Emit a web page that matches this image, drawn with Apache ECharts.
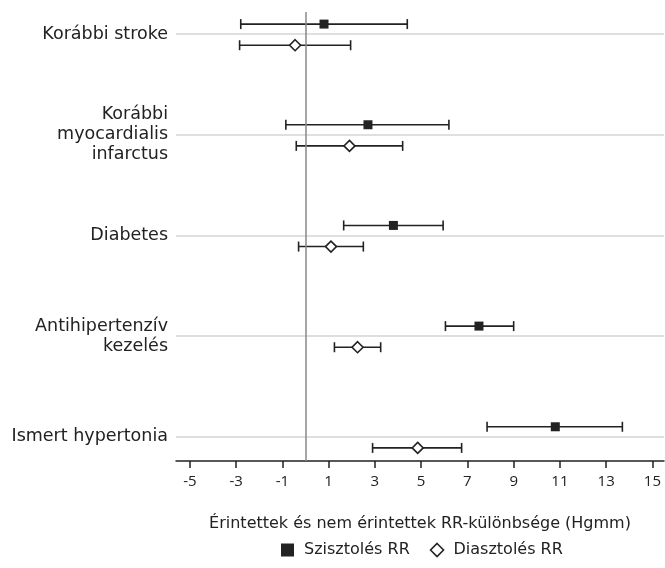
<!DOCTYPE html>
<html>
<head>
<meta charset="utf-8">
<script src="https://cdn.jsdelivr.net/npm/echarts@6/dist/echarts.min.js"></script>
<style>
  html, body { margin: 0; padding: 0; background: #fff; }
  #main { width: 665px; height: 568px; }
</style>
</head>
<body>
<div id="main"></div>
<script>
var categories = ['Korábbi stroke', 'Korábbi\nmyocardialis\ninfarctus', 'Diabetes', 'Antihipertenzív\nkezelés', 'Ismert hypertonia'];
var xTicks = [-5, -3, -1, 1, 3, 5, 7, 9, 11, 13, 15];

// [lower, estimate, upper]
var sysLow = [-2.8, -0.85, 1.65, 6.05, 7.85];
var sysMid = [0.8, 2.7, 3.8, 7.5, 10.8];
var sysHigh = [4.4, 6.2, 5.95, 9.0, 13.7];

var diaLow = [-2.85, -0.4, -0.3, 1.25, 2.9];
var diaMid = [-0.45, 1.9, 1.1, 2.25, 4.85];
var diaHigh = [1.95, 4.2, 2.5, 3.25, 6.75];

function rows(low, mid, high) {
  return categories.map(function (c, i) { return [i, low[i], mid[i], high[i]]; });
}

var myChart = echarts.init(document.getElementById('main'));

function makeRender(offset, shape) {
  return function (params, api) {
    var y = api.value(0) + offset;
    var a = api.coord([api.value(1), y]);
    var m = api.coord([api.value(2), y]);
    var b = api.coord([api.value(3), y]);
    var lineStyle = { stroke: '#222', lineWidth: 1.6 };
    var children = [
      { type: 'line', shape: { x1: a[0], y1: a[1], x2: b[0], y2: b[1] }, style: lineStyle },
      { type: 'line', shape: { x1: a[0], y1: a[1] - 5, x2: a[0], y2: a[1] + 5 }, style: lineStyle },
      { type: 'line', shape: { x1: b[0], y1: b[1] - 5, x2: b[0], y2: b[1] + 5 }, style: lineStyle }
    ];
    if (shape === 'rect') {
      children.push({ type: 'rect', shape: { x: m[0] - 4.5, y: m[1] - 4.5, width: 9, height: 9 }, style: { fill: '#222' } });
    } else {
      children.push({ type: 'polygon', shape: { points: [[m[0], m[1] - 5.5], [m[0] + 5.5, m[1]], [m[0], m[1] + 5.5], [m[0] - 5.5, m[1]]] },
        style: { fill: '#fff', stroke: '#222', lineWidth: 1.6 } });
    }
    return { type: 'group', children: children };
  };
}

var labelFont = 'DejaVu Sans';

var option = {
  animation: false,
  textStyle: { fontFamily: labelFont, color: '#222' },
  legend: {
    bottom: 5,
    left: 276,
    itemWidth: 13,
    itemHeight: 13,
    itemGap: 20,
    textStyle: { fontFamily: labelFont, fontSize: 16, color: '#222', padding: [0, 0, 0, 5] },
    data: [
      { name: 'Szisztolés RR', icon: 'rect', itemStyle: { color: '#222' } },
      { name: 'Diasztolés RR', icon: 'diamond', itemStyle: { color: '#fff', borderColor: '#222', borderWidth: 1.6 } }
    ]
  },
  grid: {
    left: 176,
    right: 1,
    top: 12,
    bottom: 107
  },
  xAxis: {
    type: 'value',
    min: -5.6,
    max: 15.5,
    name: 'Érintettek és nem érintettek RR-különbsége (Hgmm)',
    nameLocation: 'middle',
    nameGap: 55,
    nameTextStyle: { fontFamily: labelFont, fontSize: 16, color: '#222' },
    axisLine: { onZero: false, lineStyle: { color: '#222', width: 1.5 } },
    axisTick: { show: true, length: 7, lineStyle: { color: '#222', width: 1.5 }, customValues: xTicks },
    axisLabel: { customValues: xTicks, fontFamily: 'Open Sans', fontSize: 15, color: '#222', margin: 13 },
    splitLine: { show: false }
  },
  yAxis: {
    type: 'value',
    inverse: true,
    min: -0.22,
    max: 4.24,
    axisLine: { show: false },
    axisTick: { show: false, customValues: [0, 1, 2, 3, 4] },
    axisLabel: {
      customValues: [0, 1, 2, 3, 4],
      formatter: function (v) { return categories[v]; },
      fontFamily: labelFont,
      fontSize: 17.5,
      lineHeight: 20,
      color: '#222',
      margin: 8,
      align: 'right'
    },
    splitLine: { show: true, lineStyle: { color: '#d4d4d4', width: 1.5 } }
  },
  series: [
    {
      name: 'Szisztolés RR',
      type: 'custom',
      renderItem: makeRender(-0.1, 'rect'),
      itemStyle: { color: '#222' },
      encode: { x: [1, 2, 3], y: 0 },
      data: rows(sysLow, sysMid, sysHigh),
      markLine: {
        silent: true,
        symbol: 'none',
        label: { show: false },
        lineStyle: { color: '#888', width: 1.5, type: 'solid' },
        data: [{ xAxis: 0 }]
      }
    },
    {
      name: 'Diasztolés RR',
      type: 'custom',
      renderItem: makeRender(0.11, 'diamond'),
      itemStyle: { color: '#fff', borderColor: '#222' },
      encode: { x: [1, 2, 3], y: 0 },
      data: rows(diaLow, diaMid, diaHigh)
    }
  ]
};

myChart.setOption(option);
</script>
</body>
</html>
